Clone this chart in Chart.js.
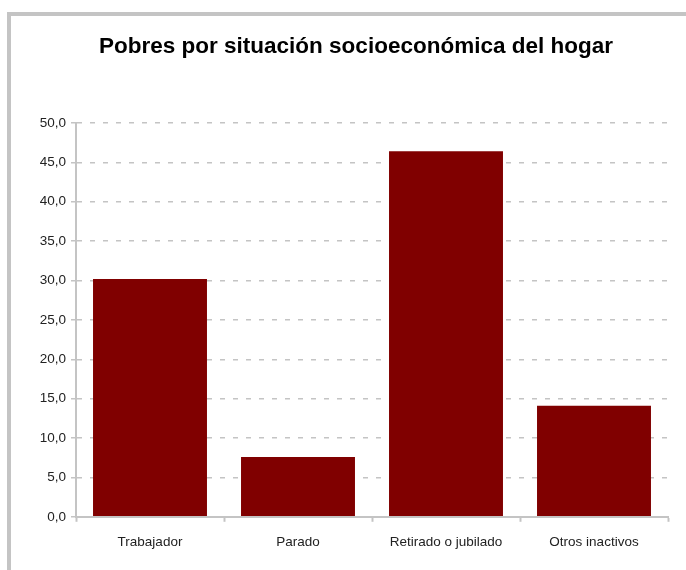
<!DOCTYPE html>
<html>
<head>
<meta charset="utf-8">
<script src="https://cdn.jsdelivr.net/npm/chart.js@4/dist/chart.umd.min.js"></script>
<style>
    html, body { margin: 0; padding: 0; background: #fff; overflow: hidden; }
    #frame {
        position: absolute; left: 7px; top: 12px;
        width: 700px; height: 600px;
        border: 4px solid #c4c4c4;
    }
    #wrap { position: absolute; left: 0; top: 0; width: 690px; height: 554px; }
</style>
</head>
<body>
<div id="frame"><div id="wrap"><canvas id="chart"></canvas></div></div>
<script>
const categories = ['Trabajador', 'Parado', 'Retirado o jubilado', 'Otros inactivos'];
const pobres = [30.2, 7.6, 46.4, 14.1];
const yMin = 0, yMax = 50, yStep = 5;

const gridGray = '#c4c4c4';
const fontFamily = '"Liberation Sans", Arial, sans-serif';

new Chart(document.getElementById('chart'), {
    type: 'bar',
    data: {
        labels: categories,
        datasets: [{
            label: 'Pobres',
            data: pobres,
            backgroundColor: '#800000',
            borderWidth: 0,
            categoryPercentage: 1,
            barPercentage: 0.77
        }]
    },
    options: {
        responsive: true,
        maintainAspectRatio: false,
        animation: false,
        layout: { padding: { left: 0, right: 0, top: 0, bottom: 8 } },
        plugins: {
            legend: { display: false },
            tooltip: { enabled: false },
            title: {
                display: true,
                text: 'Pobres por situación socioeconómica del hogar',
                color: '#000',
                font: { family: fontFamily, size: 22.5, weight: 'bold' },
                padding: { top: 17, bottom: 63 }
            }
        },
        scales: {
            x: {
                offset: true,
                border: { display: true, color: gridGray, width: 2 },
                grid: {
                    display: true, drawOnChartArea: false, offset: true,
                    tickLength: 5, tickColor: gridGray, tickWidth: 2
                },
                ticks: { color: '#222', padding: 12, font: { family: fontFamily, size: 13.5 } }
            },
            y: {
                min: yMin, max: yMax,
                afterFit: function(scale) { scale.width = 65; },
                border: { display: true, color: gridGray, width: 2, dash: [5, 8] },
                grid: {
                    color: gridGray, lineWidth: 1.5,
                    tickLength: 5, tickColor: gridGray, tickWidth: 1.5, tickBorderDash: [1, 0]
                },
                ticks: {
                    stepSize: yStep, color: '#222', padding: 5,
                    font: { family: fontFamily, size: 13.5 },
                    callback: v => v.toFixed(1).replace('.', ',')
                }
            },
            // empty right-hand margin so the plot ends where the reference does
            yRight: {
                position: 'right',
                min: yMin, max: yMax,
                afterFit: function(scale) { scale.width = 33; },
                border: { display: false },
                grid: { display: false },
                ticks: { display: false }
            }
        }
    }
});
</script>
</body>
</html>
